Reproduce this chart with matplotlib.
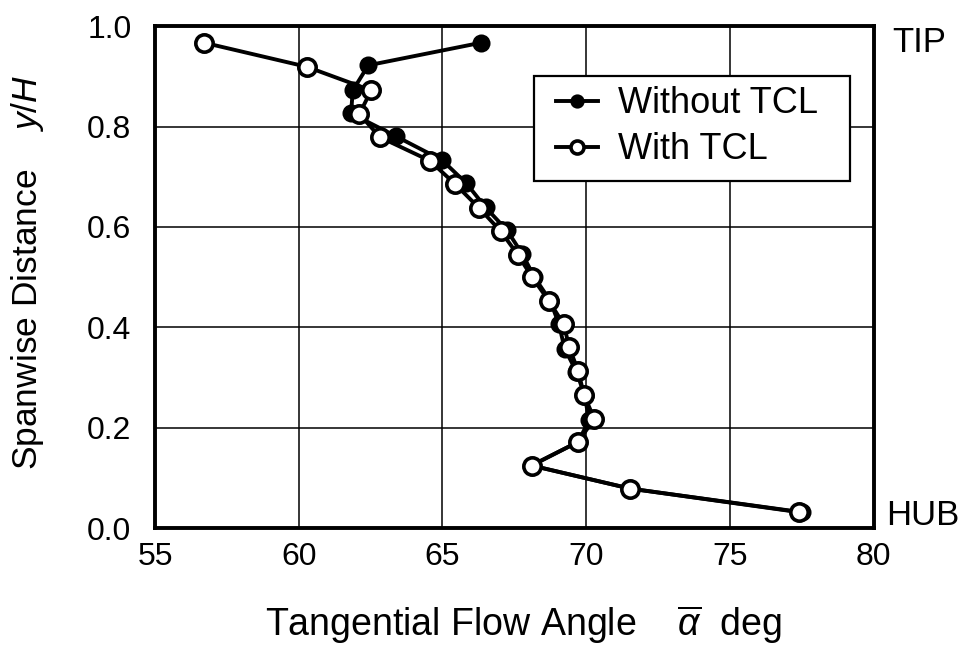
import matplotlib
matplotlib.use("Agg")
import matplotlib.pyplot as plt
from matplotlib.patches import Rectangle

plt.rcParams["font.family"] = ["Liberation Sans", "DejaVu Sans"]
plt.rcParams["mathtext.fontset"] = "custom"
plt.rcParams["mathtext.rm"] = "Liberation Sans"
plt.rcParams["mathtext.it"] = "Liberation Sans:italic"

# spanwise positions y/H
span_with = [0.967, 0.919, 0.872, 0.825, 0.779, 0.732, 0.685, 0.638, 0.592, 0.545, 0.500,
             0.453, 0.406, 0.361, 0.313, 0.265, 0.218, 0.172, 0.125, 0.079, 0.032]
span_without = [0.967, 0.922, 0.872, 0.826, 0.781, 0.733, 0.687, 0.639, 0.593, 0.547, 0.500,
                0.453, 0.407, 0.358, 0.312, 0.264, 0.215, 0.172, 0.125, 0.079, 0.032]

# tangential flow angle (deg)
angle_with = [56.70, 60.28, 62.52, 62.11, 62.82, 64.56, 65.45, 66.27, 67.02, 67.62, 68.12,
              68.70, 69.22, 69.41, 69.72, 69.93, 70.28, 69.72, 68.10, 71.53, 77.42]
angle_without = [66.35, 62.42, 61.88, 61.82, 63.37, 64.99, 65.83, 66.50, 67.25, 67.77, 68.20,
                 68.75, 69.05, 69.25, 69.66, 69.95, 70.10, 69.72, 68.10, 71.53, 77.50]

x_ticks = [55, 60, 65, 70, 75, 80]
y_ticks = [0.0, 0.2, 0.4, 0.6, 0.8, 1.0]

fig = plt.figure(figsize=(9.75, 6.53), dpi=100)
ax = fig.add_axes([0.159, 0.191, 0.737, 0.769])

ax.plot(angle_without, span_without, color="black", lw=2.8, marker="o", ms=11,
        mfc="black", mec="black", mew=2.0, label="Without TCL", zorder=3)
ax.plot(angle_with, span_with, color="black", lw=2.8, marker="o", ms=12.5,
        mfc="white", mec="black", mew=2.6, label="With TCL", zorder=4)

ax.set_xlim(55, 80)
ax.set_ylim(0.0, 1.0)
ax.set_xticks(x_ticks)
ax.set_yticks(y_ticks)
ax.set_yticklabels([f"{v:.1f}" for v in y_ticks])
ax.tick_params(axis="both", length=0, labelsize=23)
ax.tick_params(axis="x", pad=10)
ax.tick_params(axis="y", pad=17)
ax.grid(True, color="black", lw=1.1)
ax.set_axisbelow(True)
for sp in ax.spines.values():
    sp.set_linewidth(2.8)

ax.set_xlabel(r"Tangential Flow Angle    $\overline{\alpha}$  deg", fontsize=27)
ax.xaxis.label.set_va("center")
ax.xaxis.set_label_coords(0.513, -0.192)
ax.set_ylabel(r"Spanwise Distance    $y/H$", fontsize=25.5)
ax.yaxis.label.set_va("center")
ax.yaxis.set_label_coords(-0.177, 0.51)

ax.text(1.026, 0.968, "TIP", transform=ax.transAxes, fontsize=25, ha="left", va="center")
ax.text(1.018, 0.026, "HUB", transform=ax.transAxes, fontsize=25, ha="left", va="center")

leg = ax.legend(loc="upper right", bbox_to_anchor=(0.922, 0.880), borderaxespad=0,
                fontsize=26, handlelength=1.15, handletextpad=0.55, markerscale=0.75,
                frameon=False, borderpad=0, labelspacing=0.3)

# square frame round the legend, wider left/right padding than top/bottom
fig.canvas.draw()
bb = leg.get_window_extent()
W, H = fig.bbox.width, fig.bbox.height
x0, x1 = bb.x0 - 22, bb.x1 + 32
y0, y1 = bb.y0 - 14, bb.y1 + 10
frame = Rectangle((x0 / W, y0 / H), (x1 - x0) / W, (y1 - y0) / H, transform=fig.transFigure,
                  facecolor="white", edgecolor="black", lw=1.6, zorder=4.5)
ax.add_artist(frame)
leg.set_zorder(5)

fig.savefig("out.png", dpi=100)
